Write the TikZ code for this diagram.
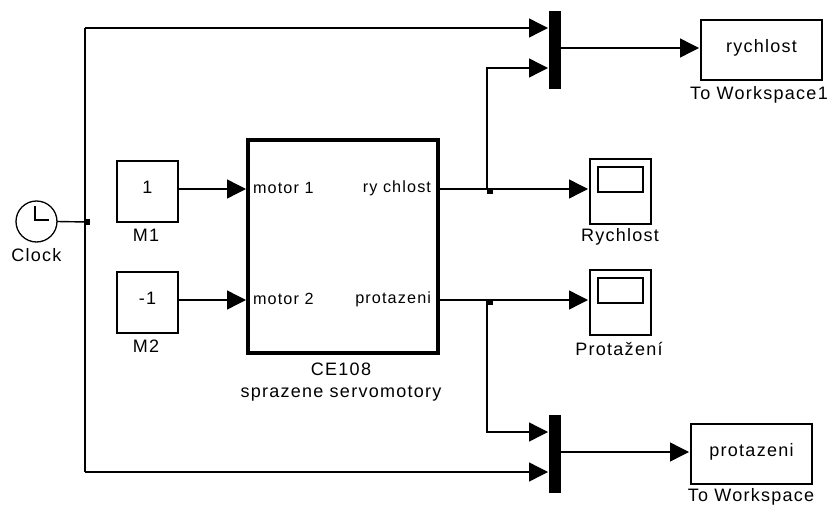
\documentclass[tikz,border=0pt]{standalone}
\usepackage{fontspec}
\setmainfont[LetterSpace=7]{Liberation Sans}
\usepackage{tikz}
\usetikzlibrary{arrows.meta, positioning}

\begin{document}
\begin{tikzpicture}[x=1pt, y=-1pt,
    every node/.style={inner sep=0pt, outer sep=0pt, font=\fontsize{18}{21}\selectfont},
    blockbox/.style={draw, line width=1.5pt, text depth=8pt},
    portlabel/.style={font=\fontsize{16.2}{19}\selectfont},
    scopebox/.style={draw, line width=1.5pt, minimum width=61pt, minimum height=65pt},
    muxbar/.style={fill=black, minimum width=12pt, minimum height=78pt},
    joinpt/.style={fill=black, minimum size=6pt},
    sig/.style={line width=1.4pt},
    sigto/.style={sig, -{Triangle[length=19pt, width=19pt]}},
]
    \useasboundingbox (0, 0) rectangle (829, 508);

    % sources
    \node[draw, circle, line width=1.3pt, minimum size=41pt] (clock) at (36.5, 221.5) {};
    \coordinate (handtop) at (35, 206);
    \coordinate (handmid) at (35, 220);
    \coordinate (handend) at (48.5, 220);
    \draw[sig] (handtop) -- (handmid) -- (handend);
    \node (clocklabel) at (36.5, 255) {Clock};
    \node[blockbox, minimum width=61pt, minimum height=61pt] (m1) at (147.5, 191.5) {1};
    \node (m1label) at (146, 235) {M1};
    \node[blockbox, minimum width=61pt, minimum height=61pt] (m2) at (147.5, 302.5) {-1};
    \node (m2label) at (146, 346) {M2};

    % main subsystem
    \node[draw, line width=3.5pt, minimum width=190pt, minimum height=213pt] (plant) at (343, 246.5) {};
    \node[portlabel, anchor=west] (motor1) at (253, 188) {motor 1};
    \node[portlabel, anchor=west] (motor2) at (253, 299) {motor 2};
    \node[portlabel, anchor=east] (speedport) at (431, 188) {ry chlost};
    \node[portlabel, anchor=east] (stretchport) at (431, 299) {protazeni};
    \node (plantname) at (341, 369) {CE108};
    \node (plantsub) at (341, 394) {sprazene servomotory};

    % scopes
    \node[scopebox] (scope1) at (620.5, 191.5) {};
    \node[draw, line width=1.3pt, minimum width=45pt, minimum height=25pt] (screen1) at (620.5, 179.5) {};
    \node (scope1label) at (620, 237) {Rychlost};
    \node[scopebox] (scope2) at (620.5, 302.5) {};
    \node[draw, line width=1.3pt, minimum width=45pt, minimum height=25pt] (screen2) at (620.5, 290.5) {};
    \node (scope2label) at (619, 349) {Protažení};

    % muxes
    \node[muxbar] (mux1) at (555, 50) {};
    \node[muxbar] (mux2) at (555, 454) {};

    % workspace blocks
    \node[blockbox, minimum width=121pt, minimum height=60pt] (wsspeed) at (761.5, 50) {rychlost};
    \node (wsspeedlabel) at (759, 95) {To Workspace1};
    \node[blockbox, minimum width=121pt, minimum height=60pt] (wsstretch) at (751.5, 454) {protazeni};
    \node (wsstretchlabel) at (751, 497) {To Workspace};

    % branch points
    \node[joinpt] (busjoin) at (87, 222) {};
    \node[joinpt] (speedjoin) at (490, 191) {};
    \node[joinpt] (stretchjoin) at (490, 302) {};

    % ports
    \coordinate (m1out) at (178, 189);
    \coordinate (m2out) at (178, 300);
    \coordinate (in1) at (246, 189);
    \coordinate (in2) at (246, 300);
    \coordinate (out1) at (440, 189);
    \coordinate (out2) at (440, 300);
    \coordinate (scope1in) at (588, 189);
    \coordinate (scope2in) at (588, 300);
    \coordinate (mux1a) at (548, 28);
    \coordinate (mux1b) at (548, 68);
    \coordinate (mux1out) at (561, 48);
    \coordinate (mux2a) at (548, 432);
    \coordinate (mux2b) at (548, 472);
    \coordinate (mux2out) at (561, 452);
    \coordinate (ws1in) at (699, 48);
    \coordinate (ws2in) at (689, 452);
    \coordinate (bustop) at (85, 28);
    \coordinate (busbot) at (85, 472);
    \coordinate (tap1) at (487, 189);
    \coordinate (tap1up) at (487, 68);
    \coordinate (tap2) at (487, 300);
    \coordinate (tap2down) at (487, 432);

    % clock bus
    \draw[sig] (clock.east) -- (busjoin);
    \draw[sigto] (bustop) -- (mux1a);
    \draw[sig] (bustop) -- (busbot);
    \draw[sigto] (busbot) -- (mux2b);

    % inputs
    \draw[sigto] (m1out) -- (in1);
    \draw[sigto] (m2out) -- (in2);

    % outputs
    \draw[sigto] (out1) -- (scope1in);
    \draw[sigto] (out2) -- (scope2in);
    \draw[sigto] (tap1) -- (tap1up) -- (mux1b);
    \draw[sigto] (tap2) -- (tap2down) -- (mux2a);
    \draw[sigto] (mux1out) -- (ws1in);
    \draw[sigto] (mux2out) -- (ws2in);
\end{tikzpicture}
\end{document}
